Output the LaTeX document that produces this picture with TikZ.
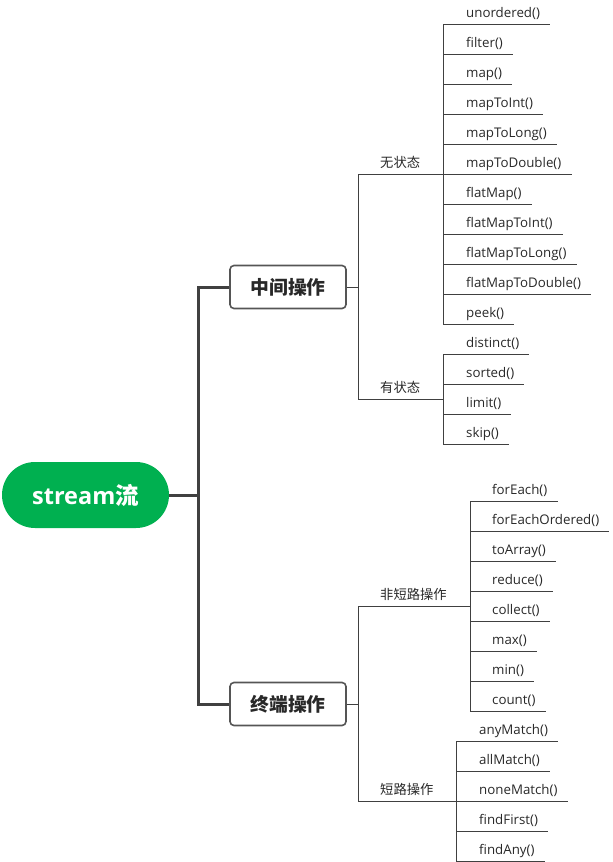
\documentclass[tikz,border=0pt]{standalone}
\usepackage{fontspec}
\setmainfont{Open Sans}
\newfontfamily\cjk{Noto Sans CJK SC}
\usetikzlibrary{calc}
\definecolor{rootgreen}{RGB}{0,176,80}
\definecolor{linegray}{RGB}{64,64,64}
\definecolor{txtgray}{RGB}{40,40,40}
\definecolor{boxgray}{RGB}{85,85,85}
\begin{document}
\begin{tikzpicture}[x=1pt,y=-1pt,
  leaf/.style={anchor=south west, inner xsep=0pt, inner ysep=3pt, text height=9pt, text depth=3pt,
    font=\fontsize{13.3}{15}\selectfont, text=txtgray},
  blabel/.style={anchor=south west, inner xsep=0pt, inner ysep=3pt, text height=10pt, text depth=3pt,
    font=\cjk\fontsize{13.3}{15}\selectfont, text=txtgray},
  thinline/.style={draw=linegray, line width=0.9pt},
  trunk/.style={draw=linegray, line width=3pt},
  opbox/.style={draw=boxgray, line width=1.6pt, rounded corners=4pt, fill=white,
    minimum width=116pt, minimum height=43pt, font=\cjk\bfseries\fontsize{18.8}{22}\selectfont, text=txtgray},
  rootnode/.style={fill=rootgreen, rounded corners=33pt, minimum width=167pt, minimum height=66pt,
    text=white, font=\bfseries\fontsize{23.5}{28}\selectfont}
]
\useasboundingbox (0,0) rectangle (613,862);

% root and first-level boxes
\node[rootnode] (root) at (85.5,495) {stream{\cjk 流}};
\node[opbox] (m1) at (288,287) {中间操作};
\node[opbox] (m2) at (288,704) {终端操作};
\coordinate (tr) at (198,495);
\draw[trunk] (root.east) -- (tr);
\draw[trunk] (m1.west) -| (tr);
\draw[trunk] (m2.west) -| (tr);

% branch labels
\node[blabel] (b1) at (358,174) {\hspace*{22pt}无状态};
\node[blabel] (b2) at (358,399) {\hspace*{22pt}有状态};
\node[blabel] (b3) at (358,606) {\hspace*{22pt}非短路操作};
\node[blabel] (b4) at (358,801) {\hspace*{22pt}短路操作};
\draw[thinline] (m1.east) -- (m1.east -| b1.south west);
\draw[thinline] (b1.south west) -- (b2.south west);
\draw[thinline] (m2.east) -- (m2.east -| b3.south west);
\draw[thinline] (b3.south west) -- (b4.south west);

% group 1
\foreach \t [count=\i from 0] in {unordered,filter,map,mapToInt,mapToLong,mapToDouble,flatMap,flatMapToInt,flatMapToLong,flatMapToDouble,peek}{
  \node[leaf] (ga\i) at (443,24+30*\i) {\hspace*{23pt}\t()\hspace*{10pt}};
  \draw[thinline] (ga\i.south west) -- (ga\i.south east);
}
\draw[thinline] (ga0.south west) -- (ga10.south west);
\draw[thinline] (b1.south west) -- ($(ga0.south west)!0.5!(ga10.south west)$);

% group 2
\foreach \t [count=\i from 0] in {distinct,sorted,limit,skip}{
  \node[leaf] (gb\i) at (443,354+30*\i) {\hspace*{23pt}\t()\hspace*{10pt}};
  \draw[thinline] (gb\i.south west) -- (gb\i.south east);
}
\draw[thinline] (gb0.south west) -- (gb3.south west);
\draw[thinline] (b2.south west) -- ($(gb0.south west)!0.5!(gb3.south west)$);

% group 3
\foreach \t [count=\i from 0] in {forEach,forEachOrdered,toArray,reduce,collect,max,min,count}{
  \node[leaf] (gc\i) at (470,501+30*\i) {\hspace*{22pt}\t()\hspace*{10pt}};
  \draw[thinline] (gc\i.south west) -- (gc\i.south east);
}
\draw[thinline] (gc0.south west) -- (gc7.south west);
\draw[thinline] (b3.south west) -- ($(gc0.south west)!0.5!(gc7.south west)$);

% group 4
\foreach \t [count=\i from 0] in {anyMatch,allMatch,noneMatch,findFirst,findAny}{
  \node[leaf] (gd\i) at (456,741+30*\i) {\hspace*{23pt}\t()\hspace*{10pt}};
  \draw[thinline] (gd\i.south west) -- (gd\i.south east);
}
\draw[thinline] (gd0.south west) -- (gd4.south west);
\draw[thinline] (b4.south west) -- ($(gd0.south west)!0.5!(gd4.south west)$);
\end{tikzpicture}
\end{document}
